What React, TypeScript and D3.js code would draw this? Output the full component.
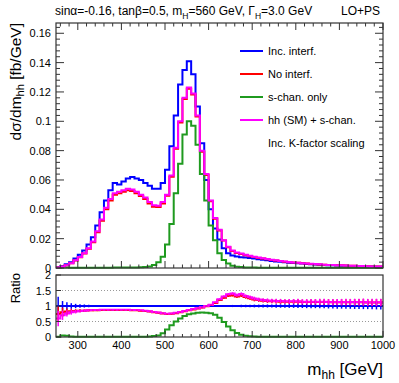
import React from 'react';
import * as d3 from 'd3';

const FONT = "'Liberation Sans', Arial, Helvetica, sans-serif";

// bin low edges, 10 GeV bins from 250 to 1000
const binLow = d3.range(250, 1000, 10);
const xMax = 1000;

// d sigma / d m_hh [fb/GeV]
const incInterf = [
  0.0005, 0.0012, 0.0025, 0.004, 0.0065, 0.009, 0.012, 0.016, 0.021, 0.029,
  0.038, 0.046, 0.053, 0.058, 0.057, 0.059, 0.061, 0.062, 0.061, 0.060,
  0.058, 0.056, 0.054, 0.054, 0.058, 0.067, 0.083, 0.104, 0.125, 0.135,
  0.141, 0.132, 0.110, 0.085, 0.060, 0.040, 0.027, 0.0195, 0.0135, 0.0100,
  0.0085, 0.0078, 0.0074, 0.0071, 0.0068, 0.0064, 0.0060, 0.0056, 0.0052, 0.0048,
  0.0045, 0.0042, 0.0039, 0.0036, 0.0034, 0.0032, 0.0030, 0.0028, 0.0026, 0.0024,
  0.0022, 0.0021, 0.0019, 0.0018, 0.0017, 0.0016, 0.0015, 0.0014, 0.0013, 0.0012,
  0.0011, 0.0011, 0.0010, 0.0009, 0.0009,
];
const noInterf = [
  0.0003, 0.0008, 0.0018, 0.0032, 0.0051, 0.0073, 0.0098, 0.0132, 0.0176, 0.0244,
  0.0322, 0.0400, 0.0460, 0.0500, 0.0510, 0.0520, 0.0530, 0.0525, 0.0510, 0.0490,
  0.0470, 0.0440, 0.0418, 0.0415, 0.0440, 0.0492, 0.0622, 0.0812, 0.0992, 0.1152,
  0.1222, 0.1183, 0.1033, 0.0793, 0.0634, 0.0455, 0.0336, 0.0256, 0.0187, 0.0141,
  0.0116, 0.0102, 0.0095, 0.0087, 0.0080, 0.0075, 0.0069, 0.0064, 0.0059, 0.0055,
  0.0051, 0.0047, 0.0043, 0.0040, 0.0037, 0.0035, 0.0032, 0.0030, 0.0028, 0.0026,
  0.0024, 0.0022, 0.0021, 0.0020, 0.0019, 0.0018, 0.0017, 0.0016, 0.0015, 0.0014,
  0.0013, 0.0012, 0.0011, 0.0010, 0.0010,
];
const sChanOnly = [
  0.0001, 0.0003, 0.0003, 0.0002, 0.0002, 0.0002, 0.0002, 0.0002, 0.0002, 0.0002,
  0.0002, 0.0002, 0.0002, 0.0003, 0.0003, 0.0003, 0.0003, 0.0004, 0.0004, 0.0005,
  0.0007, 0.0010, 0.0020, 0.0040, 0.0077, 0.016, 0.030, 0.051, 0.071, 0.091,
  0.100, 0.097, 0.084, 0.064, 0.046, 0.029, 0.019, 0.010, 0.0055, 0.0030,
  0.0016, 0.0009, 0.0006, 0.0004, 0.0003, 0.0003, 0.0002, 0.0002, 0.0002, 0.0002,
  0.0002, 0.0002, 0.0002, 0.0001, 0.0001, 0.0001, 0.0001, 0.0001, 0.0001, 0.0001,
  0.0001, 0.0001, 0.0001, 0.0001, 0.0001, 0.0001, 0.0001, 0.0001, 0.0001, 0.0001,
  0.0001, 0.0001, 0.0001, 0.0001, 0.0001,
];
const hhSmSChan = [
  0.0003, 0.0008, 0.0018, 0.0032, 0.0052, 0.0075, 0.0100, 0.0135, 0.018, 0.025,
  0.033, 0.041, 0.047, 0.051, 0.052, 0.053, 0.054, 0.0535, 0.052, 0.050,
  0.048, 0.045, 0.0428, 0.0425, 0.045, 0.050, 0.063, 0.082, 0.100, 0.116,
  0.123, 0.119, 0.104, 0.080, 0.064, 0.046, 0.034, 0.026, 0.019, 0.0145,
  0.0120, 0.0105, 0.0098, 0.0090, 0.0083, 0.0077, 0.0071, 0.0066, 0.0061, 0.0056,
  0.0052, 0.0048, 0.0044, 0.0041, 0.0038, 0.0036, 0.0033, 0.0031, 0.0029, 0.0027,
  0.0025, 0.0023, 0.0021, 0.0020, 0.0019, 0.0018, 0.0017, 0.0016, 0.0015, 0.0014,
  0.0013, 0.0012, 0.0011, 0.0010, 0.0010,
];

// ratio to "Inc. interf."
const ratioIncInterf = [
  1, 1, 1, 1, 1, 1, 1, 1, 1, 1, 1, 1, 1, 1, 1, 1, 1, 1, 1, 1, 1, 1, 1, 1, 1,
  1, 1, 1, 1, 1, 1, 1, 1, 1, 1, 1, 1, 1, 1, 1, 1, 1, 1, 1, 1, 1, 1, 1, 1, 1,
  1, 1, 1, 1, 1, 1, 1, 1, 1, 1, 1, 1, 1, 1, 1, 1, 1, 1, 1, 1, 1, 1, 1, 1, 1,
];
const ratioNoInterf = [
  0.74, 0.80, 0.82, 0.83, 0.84, 0.85, 0.85, 0.86, 0.86, 0.86,
  0.87, 0.87, 0.87, 0.87, 0.87, 0.87, 0.87, 0.86, 0.86, 0.85,
  0.84, 0.82, 0.80, 0.78, 0.76, 0.74, 0.75, 0.77, 0.80, 0.83,
  0.86, 0.89, 0.92, 0.95, 0.99, 1.03, 1.10, 1.19, 1.27, 1.33,
  1.35, 1.31, 1.34, 1.29, 1.25, 1.21, 1.19, 1.17, 1.16, 1.15,
  1.15, 1.14, 1.14, 1.14, 1.14, 1.14, 1.13, 1.13, 1.13, 1.13,
  1.13, 1.13, 1.13, 1.12, 1.12, 1.12, 1.12, 1.12, 1.12, 1.12,
  1.12, 1.11, 1.11, 1.11, 1.11,
];
const ratioSChan = [
  0.01, 0.05, 0.04, 0.02, 0.01, 0.01, 0.01, 0.01, 0.01, 0.01,
  0.005, 0.005, 0.005, 0.005, 0.005, 0.005, 0.005, 0.005, 0.005, 0.005,
  0.01, 0.02, 0.03, 0.05, 0.12, 0.24, 0.38, 0.50, 0.60, 0.68,
  0.73, 0.76, 0.78, 0.79, 0.78, 0.77, 0.72, 0.62, 0.48, 0.34,
  0.22, 0.13, 0.07, 0.04, 0.025, 0.015, 0.01, 0.01, 0.005, 0.005,
  0.005, 0.005, 0.005, 0.005, 0.005, 0.005, 0.005, 0.005, 0.005, 0.005,
  0.005, 0.005, 0.005, 0.005, 0.005, 0.005, 0.005, 0.005, 0.005, 0.005,
  0.005, 0.005, 0.005, 0.005, 0.005,
];
const ratioHh = [
  0.60, 0.70, 0.76, 0.80, 0.82, 0.84, 0.85, 0.86, 0.87, 0.87,
  0.88, 0.88, 0.88, 0.88, 0.88, 0.88, 0.88, 0.87, 0.87, 0.86,
  0.85, 0.83, 0.81, 0.79, 0.77, 0.75, 0.76, 0.78, 0.81, 0.84,
  0.87, 0.90, 0.93, 0.96, 1.00, 1.04, 1.12, 1.22, 1.31, 1.38,
  1.40, 1.35, 1.39, 1.32, 1.28, 1.24, 1.21, 1.19, 1.18, 1.17,
  1.16, 1.16, 1.15, 1.15, 1.15, 1.15, 1.14, 1.14, 1.14, 1.14,
  1.14, 1.14, 1.13, 1.13, 1.13, 1.13, 1.13, 1.13, 1.13, 1.13,
  1.13, 1.12, 1.12, 1.12, 1.12,
];
const ratioErrInc = [
  0.30, 0.16, 0.12, 0.09, 0.07, 0.06, 0.05, 0.04, 0.035, 0.03,
  0.025, 0.02, 0.02, 0.02, 0.02, 0.02, 0.02, 0.02, 0.02, 0.02,
  0.02, 0.02, 0.02, 0.02, 0.02, 0.02, 0.02, 0.02, 0.02, 0.02,
  0.015, 0.015, 0.015, 0.015, 0.015, 0.02, 0.02, 0.025, 0.03, 0.03,
  0.035, 0.035, 0.04, 0.04, 0.04, 0.045, 0.045, 0.05, 0.05, 0.05,
  0.055, 0.055, 0.06, 0.06, 0.06, 0.065, 0.065, 0.07, 0.07, 0.07,
  0.075, 0.075, 0.08, 0.08, 0.085, 0.085, 0.09, 0.09, 0.095, 0.095,
  0.10, 0.10, 0.105, 0.11, 0.11,
];
const ratioErr = [
  0.25, 0.15, 0.10, 0.08, 0.06, 0.05, 0.04, 0.035, 0.03, 0.025,
  0.02, 0.02, 0.02, 0.02, 0.02, 0.02, 0.02, 0.02, 0.02, 0.02,
  0.02, 0.02, 0.02, 0.02, 0.02, 0.02, 0.02, 0.02, 0.02, 0.02,
  0.02, 0.02, 0.02, 0.02, 0.02, 0.02, 0.025, 0.03, 0.035, 0.04,
  0.045, 0.05, 0.05, 0.055, 0.055, 0.06, 0.06, 0.06, 0.065, 0.065,
  0.07, 0.07, 0.07, 0.075, 0.075, 0.08, 0.08, 0.08, 0.085, 0.085,
  0.09, 0.09, 0.09, 0.095, 0.095, 0.10, 0.10, 0.10, 0.105, 0.105,
  0.11, 0.11, 0.11, 0.115, 0.115,
];

const legendLabels = ['Inc. interf.', 'No interf.', 's-chan. only', 'hh (SM) + s-chan.'];
const colors = ['#0000ff', '#ff0000', '#1f9a1f', '#ff00ff'];

const yTicksMain = [0, 0.02, 0.04, 0.06, 0.08, 0.1, 0.12, 0.14, 0.16];
const yTicksRatio = [0, 0.5, 1, 1.5, 2];
const xTicks = [300, 400, 500, 600, 700, 800, 900, 1000];

const x = d3.scaleLinear().domain([250, xMax]).range([56, 383]);
const y = d3.scaleLinear().domain([0, 0.167]).range([268, 23]);
const yr = d3.scaleLinear().domain([0, 2]).range([337, 275]);

function stepPath(vals: number[], ys: d3.ScaleLinear<number, number>) {
  const pts: [number, number][] = vals.map((v, i) => [binLow[i], v]);
  pts.push([xMax, vals[vals.length - 1]]);
  return d3.line<[number, number]>()
    .x(d => x(d[0]))
    .y(d => ys(d[1]))
    .curve(d3.curveStepAfter)(pts) || '';
}

function ErrBars({ vals, errs, color }: { vals: number[]; errs: number[]; color: string }) {
  return (
    <g stroke={color} strokeWidth={1.5}>
      {vals.map((v, i) => {
        const cx = x(binLow[i] + 5);
        return <line key={i} x1={cx} x2={cx} y1={yr(v - errs[i])} y2={yr(v + errs[i])} />;
      })}
    </g>
  );
}

export default function App() {
  const minorX = d3.range(260, 1000, 20).filter(v => v % 100 !== 0);
  const minorY = d3.range(0, 0.167, 0.004).filter(v => Math.abs(v / 0.02 - Math.round(v / 0.02)) > 0.01);
  const fmt = (v: number) => String(+v.toFixed(2));
  const mainSeries = [incInterf, noInterf, sChanOnly, hhSmSChan];
  const ratioSeries = [ratioIncInterf, ratioNoInterf, ratioSChan, ratioHh];
  const frame = '#333';

  return (
    <svg width={399} height={383} style={{ position: 'absolute', left: 0, top: 0, background: '#fff' }} fontFamily={FONT}>
      <rect x={0} y={0} width={399} height={383} fill="#fff" />

      {/* title */}
      <text x={55} y={15} fontSize={12}>
        sinα=-0.16, tanβ=0.5, m<tspan fontSize={8.5} dy={4}>H</tspan>
        <tspan dy={-4}>=560 GeV, Γ</tspan><tspan fontSize={8.5} dy={4}>H</tspan>
        <tspan dy={-4}>=3.0 GeV</tspan>
      </text>
      <text x={380} y={15} fontSize={12} textAnchor="end">LO+PS</text>

      {/* main panel */}
      <g fill="none" strokeWidth={2}>
        {mainSeries.map((s, k) => (
          <path key={k} d={stepPath(s, y)} stroke={colors[k]} />
        ))}
      </g>

      {/* main axes */}
      <rect x={x(250)} y={y(0.167)} width={x(xMax) - x(250)} height={y(0) - y(0.167)} fill="none" stroke={frame} strokeWidth={1.2} />
      <g stroke={frame} strokeWidth={1}>
        {xTicks.map(t => (
          <g key={t}>
            <line x1={x(t)} x2={x(t)} y1={y(0)} y2={y(0) - 7} />
            <line x1={x(t)} x2={x(t)} y1={y(0.167)} y2={y(0.167) + 7} />
          </g>
        ))}
        {minorX.map(t => (
          <g key={t}>
            <line x1={x(t)} x2={x(t)} y1={y(0)} y2={y(0) - 3.5} />
            <line x1={x(t)} x2={x(t)} y1={y(0.167)} y2={y(0.167) + 3.5} />
          </g>
        ))}
        {yTicksMain.map(t => (
          <g key={t}>
            <line x1={x(250)} x2={x(250) + 8} y1={y(t)} y2={y(t)} />
            <line x1={x(xMax)} x2={x(xMax) - 8} y1={y(t)} y2={y(t)} />
          </g>
        ))}
        {minorY.map(t => (
          <g key={t}>
            <line x1={x(250)} x2={x(250) + 4} y1={y(t)} y2={y(t)} />
            <line x1={x(xMax)} x2={x(xMax) - 4} y1={y(t)} y2={y(t)} />
          </g>
        ))}
      </g>
      <g fontSize={11} textAnchor="end">
        {yTicksMain.map(t => (
          <text key={t} x={51} y={y(t) + 4}>{fmt(t)}</text>
        ))}
      </g>
      <text transform={`translate(21,${y(0.167)}) rotate(-90)`} fontSize={15.5} textAnchor="end">
        dσ/dm<tspan fontSize={11} dy={3}>hh</tspan><tspan dy={-3}> [fb/GeV]</tspan>
      </text>

      {/* legend */}
      <g fontSize={11}>
        {legendLabels.map((l, k) => (
          <g key={l} transform={`translate(0,${51 + k * 23})`}>
            <line x1={240} x2={263} y1={0} y2={0} stroke={colors[k]} strokeWidth={2} />
            <text x={268} y={4}>{l}</text>
          </g>
        ))}
        <text x={268} y={51 + 4 * 23 + 4}>Inc. K-factor scaling</text>
      </g>

      {/* ratio panel */}
      <g stroke="#999" strokeWidth={1} strokeDasharray="1,2">
        {[0.5, 1, 1.5].map(t => (
          <line key={t} x1={x(250)} x2={x(xMax)} y1={yr(t)} y2={yr(t)} />
        ))}
      </g>
      <g fill="none" strokeWidth={2}>
        {ratioSeries.map((s, k) => (
          <path key={k} d={stepPath(s, yr)} stroke={colors[k]} />
        ))}
      </g>
      <ErrBars vals={ratioIncInterf} errs={ratioErrInc} color={colors[0]} />
      <ErrBars vals={ratioNoInterf} errs={ratioErr} color={colors[1]} />
      <ErrBars vals={ratioHh} errs={ratioErr} color={colors[3]} />
      <rect x={x(250)} y={yr(2)} width={x(xMax) - x(250)} height={yr(0) - yr(2)} fill="none" stroke={frame} strokeWidth={1.2} />
      <g stroke={frame} strokeWidth={1}>
        {xTicks.map(t => (
          <line key={t} x1={x(t)} x2={x(t)} y1={yr(0)} y2={yr(0) - 6} />
        ))}
        {minorX.map(t => (
          <line key={t} x1={x(t)} x2={x(t)} y1={yr(0)} y2={yr(0) - 3} />
        ))}
        {yTicksRatio.map(t => (
          <line key={t} x1={x(250)} x2={x(250) + 5} y1={yr(t)} y2={yr(t)} />
        ))}
      </g>
      <g fontSize={11} textAnchor="end">
        {yTicksRatio.map(t => (
          <text key={t} x={51} y={yr(t) + 4}>{fmt(t)}</text>
        ))}
      </g>
      <g fontSize={11} textAnchor="middle">
        {xTicks.map(t => (
          <text key={t} x={x(t)} y={349}>{t}</text>
        ))}
      </g>
      <text transform={`translate(20,${yr(2) - 2}) rotate(-90)`} fontSize={13} textAnchor="end">Ratio</text>
      <text x={383} y={375} fontSize={17} textAnchor="end">
        m<tspan fontSize={12} dy={4}>hh</tspan><tspan dy={-4}> [GeV]</tspan>
      </text>
    </svg>
  );
}
